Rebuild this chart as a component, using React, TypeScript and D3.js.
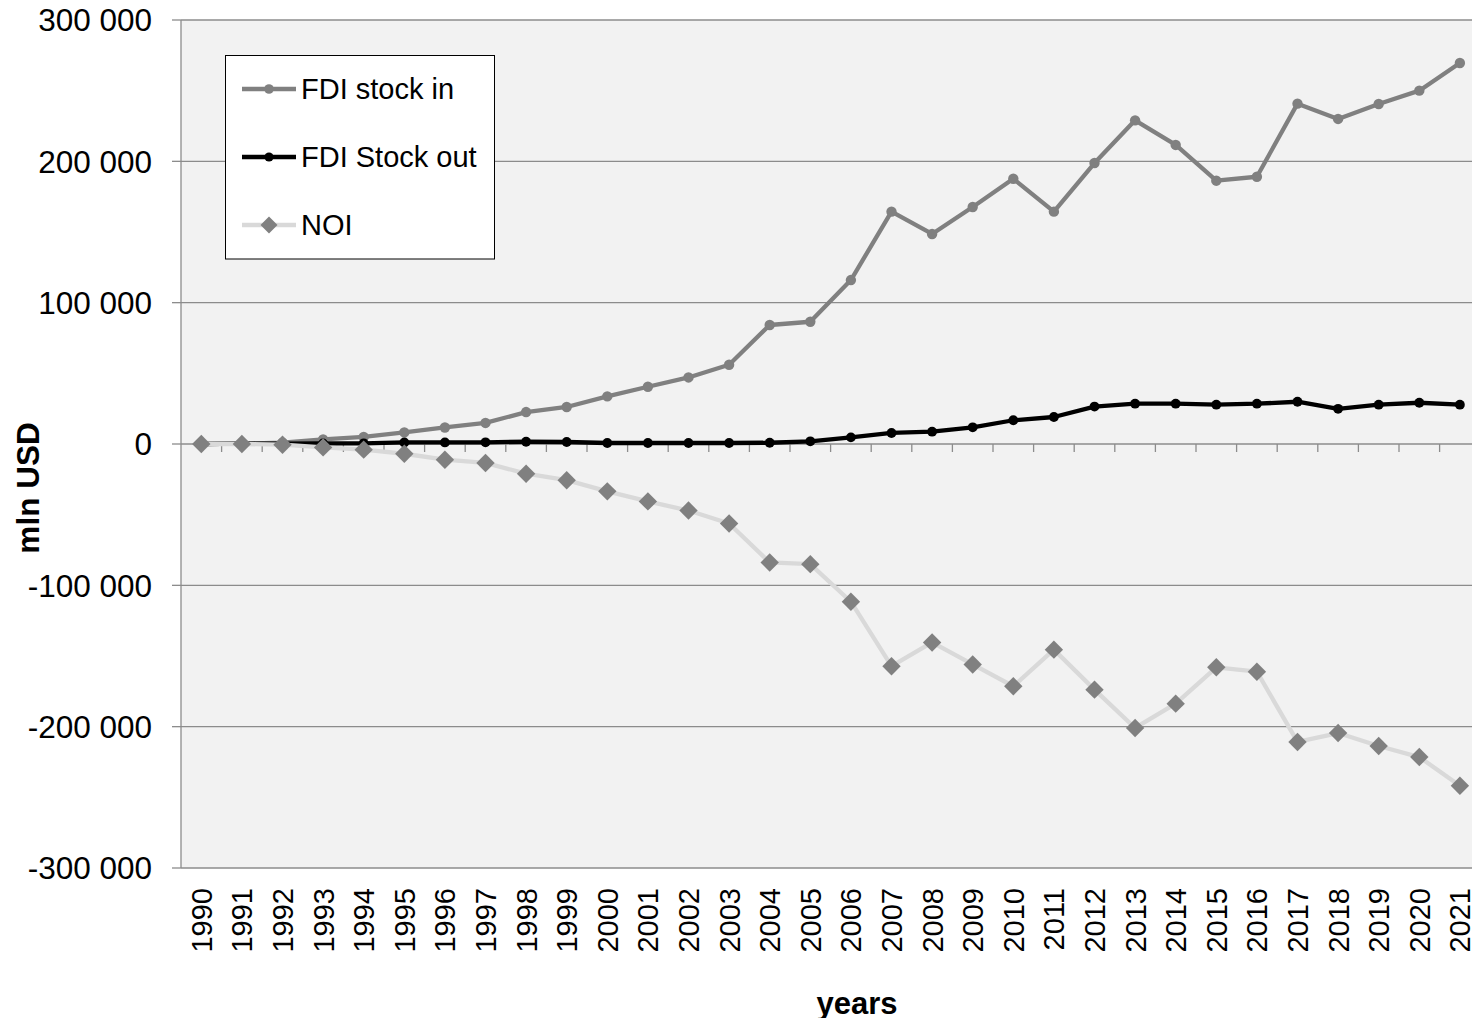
import React from "react";
import * as d3 from "d3";

const years: string[] = Array.from({ length: 32 }, (_, i) => String(1990 + i));

const fdiStockIn: number[] = [
  0, 300, 1000, 3300, 5000, 8200, 11700, 14900, 22600, 26200,
  33700, 40500, 47100, 56100, 84200, 86500, 116000, 164400, 148600, 167700,
  187700, 164400, 198800, 229000, 211600, 186300, 189100, 240800, 230000, 240600,
  250000, 269600,
];

const fdiStockOut: number[] = [
  0, 200, 300, 400, 500, 1100, 1100, 1200, 1600, 1400,
  700, 700, 700, 700, 900, 1900, 4700, 7800, 8700, 11800,
  16800, 19100, 26500, 28500, 28500, 27800, 28500, 29900, 24900, 27800,
  29200, 27800,
];

const noi: number[] = [
  0, 0, -500, -2400, -4000, -6900, -11100, -13400, -21000, -25600,
  -33500, -40600, -47100, -56300, -83800, -85000, -111600, -157200, -140400, -156000,
  -171400, -145500, -173800, -200900, -183700, -158000, -161100, -210800, -204500, -213700,
  -221500, -241800,
];

const yTicks: number[] = [300000, 200000, 100000, 0, -100000, -200000, -300000];
const seriesNames: string[] = ["FDI stock in", "FDI Stock out", "NOI"];

const W = 1472;
const H = 1018;
const left = 181;
const top = 20;
const bottom = 868;
const step = 40.6;
const right = left + step * years.length;

const fmt = (v: number) => {
  const s = d3.format(",")(v);
  return s.replace(/,/g, " ").replace("−", "-");
};

export default function App() {
  const x = d3.scaleBand<string>().domain(years).range([left, right]).padding(0);
  const y = d3.scaleLinear().domain([-300000, 300000]).range([bottom, top]);
  const cx = (yr: string) => (x(yr) as number) + x.bandwidth() / 2;

  const line = d3
    .line<number>()
    .x((_, i) => cx(years[i]))
    .y((d) => y(d));

  const font = "Liberation Sans, Arial, sans-serif";
  const diamond = (px: number, py: number, r: number) =>
    `M${px},${py - r}L${px + r},${py}L${px},${py + r}L${px - r},${py}Z`;

  const legendItems = [
    { name: seriesNames[0], color: "#808080", lineColor: "#808080", marker: "circle", r: 4.8 },
    { name: seriesNames[1], color: "#000000", lineColor: "#000000", marker: "circle", r: 4.6 },
    { name: seriesNames[2], color: "#808080", lineColor: "#d9d9d9", marker: "diamond", r: 8.5 },
  ];

  return (
    <svg
      width={W}
      height={H}
      style={{ position: "absolute", left: 0, top: 0, background: "#fff" }}
      fontFamily={font}
    >
      <rect x={left} y={top} width={W - left} height={bottom - top} fill="#f2f2f2" />
      {yTicks.map((t) => (
        <g key={t}>
          {t !== 0 && (
            <line x1={left} x2={W} y1={y(t)} y2={y(t)} stroke="#8c8c8c" strokeWidth={1.3} />
          )}
          <line x1={left - 9} x2={left} y1={y(t)} y2={y(t)} stroke="#8c8c8c" strokeWidth={1.3} />
          <text x={152} y={y(t)} dy="0.36em" textAnchor="end" fontSize={31.5} fill="#000">
            {fmt(t)}
          </text>
        </g>
      ))}
      {/* zero axis */}
      <line x1={left} x2={W} y1={y(0)} y2={y(0)} stroke="#8c8c8c" strokeWidth={1.3} />
      {years.map((yr, i) =>
        i === 0 ? null : (
          <line
            key={"t" + yr}
            x1={x(yr) as number}
            x2={x(yr) as number}
            y1={y(0)}
            y2={y(0) + 8}
            stroke="#8c8c8c"
            strokeWidth={1.3}
          />
        )
      )}
      <line x1={left} x2={left} y1={top} y2={bottom} stroke="#8c8c8c" strokeWidth={1.3} />

      {/* series */}
      <path d={line(fdiStockIn) || ""} fill="none" stroke="#808080" strokeWidth={4.3} strokeLinejoin="round" />
      {fdiStockIn.map((v, i) => (
        <circle key={"a" + i} cx={cx(years[i])} cy={y(v)} r={5.2} fill="#808080" />
      ))}
      <path d={line(fdiStockOut) || ""} fill="none" stroke="#000" strokeWidth={4.3} strokeLinejoin="round" />
      {fdiStockOut.map((v, i) => (
        <circle key={"b" + i} cx={cx(years[i])} cy={y(v)} r={4.9} fill="#000" />
      ))}
      <path d={line(noi) || ""} fill="none" stroke="#d9d9d9" strokeWidth={4.3} strokeLinejoin="round" />
      {noi.map((v, i) => (
        <path key={"c" + i} d={diamond(cx(years[i]), y(v), 9.2)} fill="#808080" />
      ))}

      {/* x labels */}
      {years.map((yr) => (
        <text
          key={"l" + yr}
          transform={`translate(${cx(yr)},888) rotate(-90)`}
          textAnchor="end"
          dy="0.36em"
          fontSize={29}
          fill="#000"
        >
          {yr}
        </text>
      ))}

      {/* legend */}
      <rect x={225.5} y={55.5} width={269} height={203.5} fill="#fff" stroke="#000" strokeWidth={1} />
      {legendItems.map((it, i) => {
        const ly = 89 + i * 68;
        return (
          <g key={it.name}>
            <line x1={242} x2={296} y1={ly} y2={ly} stroke={it.lineColor} strokeWidth={4.3} />
            {it.marker === "circle" ? (
              <circle cx={269} cy={ly} r={it.r} fill={it.color} />
            ) : (
              <path d={diamond(269, ly, it.r)} fill={it.color} />
            )}
            <text x={301} y={ly} dy="0.36em" fontSize={29} fill="#000">
              {it.name}
            </text>
          </g>
        );
      })}

      {/* axis titles */}
      <text
        transform="translate(28,488) rotate(-90)"
        textAnchor="middle"
        dy="0.36em"
        fontSize={31.5}
        fontWeight="bold"
        fill="#000"
      >
        mln USD
      </text>
      <text x={857} y={1014} textAnchor="middle" fontSize={31} fontWeight="bold" fill="#000">
        years
      </text>
    </svg>
  );
}
